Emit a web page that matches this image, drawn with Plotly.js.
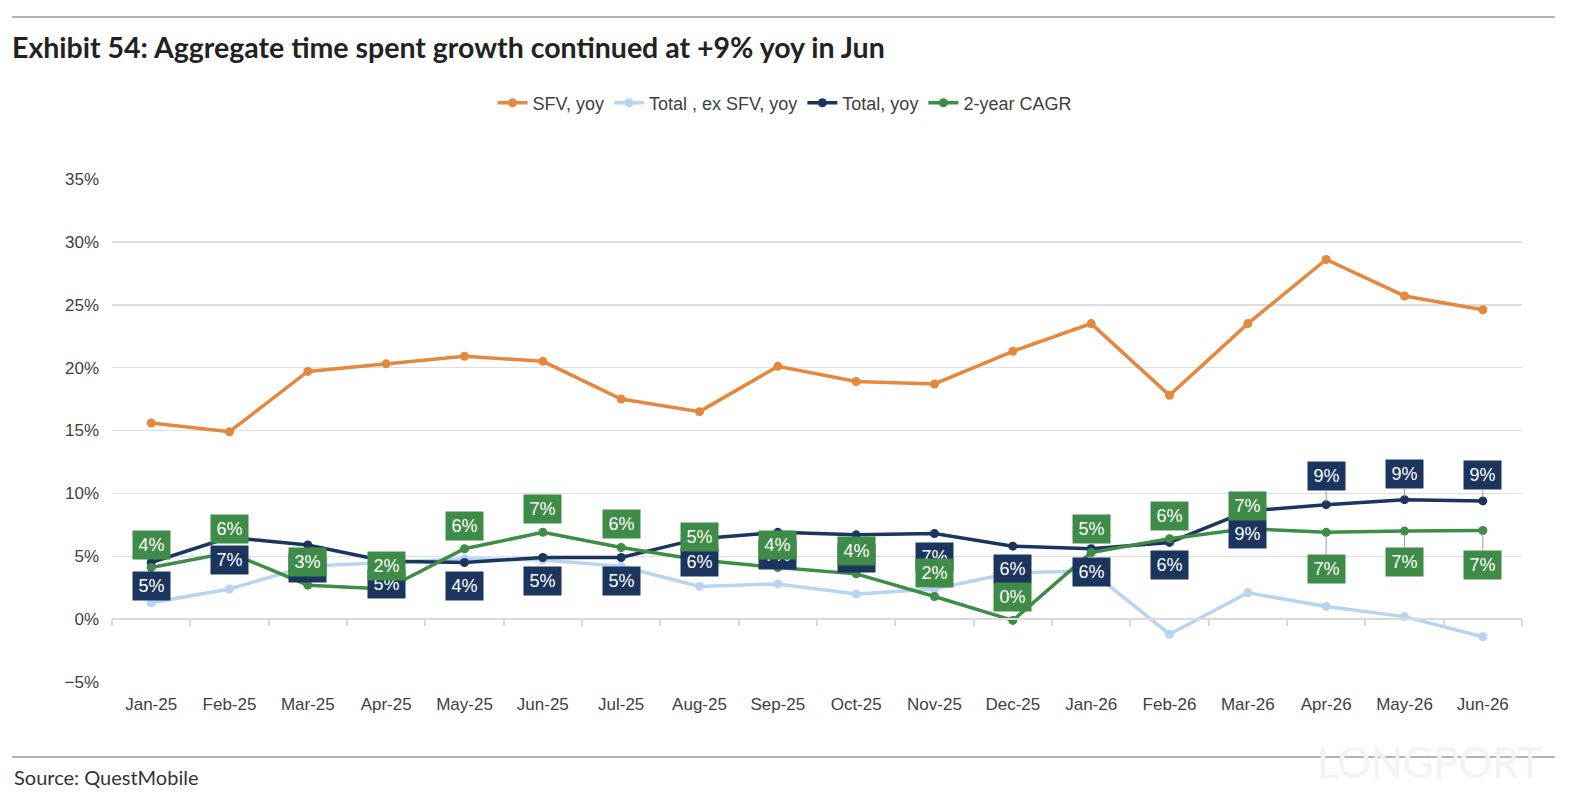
<!DOCTYPE html>
<html>
<head>
<meta charset="utf-8">
<script src="https://cdn.plot.ly/plotly-3.0.1.min.js"></script>
<style>
  body { margin: 0; background: #fff; }
  #plot { width: 1585px; height: 805px; }
</style>
</head>
<body>
<div id="plot"></div>
<script>
// monthly growth, % yoy
var months = ['Jan-25', 'Feb-25', 'Mar-25', 'Apr-25', 'May-25', 'Jun-25', 'Jul-25', 'Aug-25', 'Sep-25',
              'Oct-25', 'Nov-25', 'Dec-25', 'Jan-26', 'Feb-26', 'Mar-26', 'Apr-26', 'May-26', 'Jun-26'];
var sfvYoy = [15.6, 14.9, 19.7, 20.3, 20.9, 20.5, 17.5, 16.5, 20.1, 18.9, 18.7, 21.3, 23.5, 17.8, 23.5, 28.6, 25.7, 24.6];
var totalExSfvYoy = [1.3, 2.4, 4.2, 4.5, 4.8, 4.7, 4.2, 2.6, 2.8, 2.0, 2.4, 3.7, 3.8, -1.2, 2.1, 1.0, 0.2, -1.4];
var totalYoy = [4.5, 6.5, 5.9, 4.6, 4.5, 4.9, 4.9, 6.4, 6.9, 6.7, 6.8, 5.8, 5.6, 6.1, 8.6, 9.1, 9.5, 9.4];
var cagr2y = [4.1, 5.3, 2.7, 2.4, 5.6, 6.9, 5.7, 4.7, 4.1, 3.6, 1.8, -0.1, 5.3, 6.4, 7.2, 6.9, 7.0, 7.05];

// data labels as printed in the exhibit
var totalLabels = [5, 7, 5, 5, 4, 5, 5, 6, 7, 7, 7, 6, 6, 6, 9, 9, 9, 9];
var cagrLabels = [4, 6, 3, 2, 6, 7, 6, 5, 4, 4, 2, 0, 5, 6, 7, 7, 7, 7];

var ORANGE = '#E5883E', LIGHT = '#B7D5F0', NAVY = '#1B355E', GREEN = '#3F8B48';

function series(name, y, color) {
  return {
    x: months, y: y, name: name, type: 'scatter', mode: 'lines+markers',
    line: {color: color, width: 3.5}, marker: {color: color, size: 9},
    hoverinfo: 'skip'
  };
}

var data = [
  series('SFV, yoy', sfvYoy, ORANGE),
  series('Total , ex SFV, yoy', totalExSfvYoy, LIGHT),
  series('Total, yoy', totalYoy, NAVY),
  series('2-year CAGR', cagr2y, GREEN),
  // carrier for the category axis drawn on the 0% line
  {x: months, y: sfvYoy, xaxis: 'x2', mode: 'lines', line: {width: 0}, opacity: 0,
   showlegend: false, hoverinfo: 'skip'}
];

// label boxes: navy below the point (above for the last three), green the other way round
var annotations = [];
function addLabels(vals, y, color, flipFrom, normalOffset, flippedOffsets) {
  vals.forEach(function(v, i) {
    var flipped = i >= flipFrom;
    annotations.push({
      x: months[i], y: y[i], xref: 'x', yref: 'y',
      text: v + '%', showarrow: true, arrowhead: 0, arrowwidth: 1,
      arrowcolor: flipped ? '#9a9a9a' : 'rgba(0,0,0,0)',
      ax: 0, ay: flipped ? flippedOffsets[i - flipFrom] : normalOffset, standoff: 3,
      bgcolor: color, borderpad: 3, width: 31, height: 22,
      font: {family: 'Liberation Sans, Arial, sans-serif', size: 18, color: '#fff'}
    });
  });
}
addLabels(totalLabels, totalYoy, NAVY, 15, 23, [-29, -26, -26]);
addLabels(cagrLabels, cagr2y, GREEN, 15, -23, [37, 31, 35]);

annotations.push({
  xref: 'paper', yref: 'paper', x: -0.0709, y: -0.189, xanchor: 'left', yanchor: 'middle',
  text: 'Source: QuestMobile', showarrow: false,
  font: {family: 'Lato, sans-serif', size: 20, color: '#333'}
});
annotations.push({
  xref: 'paper', yref: 'paper', x: 0.935, y: -0.16, xanchor: 'center', yanchor: 'middle',
  text: 'LONGPORT', showarrow: false,
  font: {family: 'Lato, sans-serif', size: 42, color: '#f3f3f3'}
});

var tickFont = {family: 'Liberation Sans, Arial, sans-serif', size: 17, color: '#404040'};

var layout = {
  width: 1585, height: 805,
  margin: {l: 112, r: 63, t: 179, b: 123},
  paper_bgcolor: '#fff', plot_bgcolor: '#fff',
  title: {
    text: '<b>Exhibit 54: Aggregate time spent growth continued at +9% yoy in Jun</b>',
    xref: 'container', yref: 'container', x: 12 / 1585, y: 1 - 48 / 805,
    xanchor: 'left', yanchor: 'middle',
    font: {family: 'Lato, sans-serif', size: 28.5, color: '#222'}
  },
  showlegend: true,
  legend: {
    orientation: 'h', x: 0.477, xanchor: 'center', y: 1.151, yanchor: 'middle',
    font: {family: 'Liberation Sans, Arial, sans-serif', size: 18, color: '#404040'},
    itemwidth: 30, tracegroupgap: 0
  },
  xaxis: {
    type: 'category', categoryarray: months, range: [-0.5, 17.5],
    showgrid: false, zeroline: false, showline: false, ticks: '',
    tickfont: tickFont, ticklabelstandoff: 10, fixedrange: true
  },
  xaxis2: {
    type: 'category', categoryarray: months, range: [-0.5, 17.5],
    overlaying: 'x', anchor: 'free', position: 0.125,
    showline: true, linecolor: '#d9d9d9', linewidth: 2,
    ticks: 'outside', tickson: 'boundaries', ticklen: 6, tickcolor: '#d9d9d9', tickwidth: 2,
    showticklabels: false, showgrid: false, zeroline: false
  },
  yaxis: {
    range: [-5, 35], dtick: 5, ticksuffix: '%',
    gridcolor: '#dedede', gridwidth: 1.5, zeroline: false, showline: false,
    tickfont: tickFont, ticklabelstandoff: 12, fixedrange: true
  },
  shapes: [
    {type: 'line', xref: 'paper', yref: 'paper', x0: -0.0709, x1: 1.0234, y0: 1.322, y1: 1.322,
     line: {color: '#9a9a9a', width: 1.5}},
    {type: 'line', xref: 'paper', yref: 'paper', x0: -0.0709, x1: 1.0234, y0: -0.149, y1: -0.149,
     line: {color: '#9a9a9a', width: 1.5}}
  ],
  annotations: annotations
};

Plotly.newPlot('plot', data, layout, {displayModeBar: false, staticPlot: true});
</script>
</body>
</html>
